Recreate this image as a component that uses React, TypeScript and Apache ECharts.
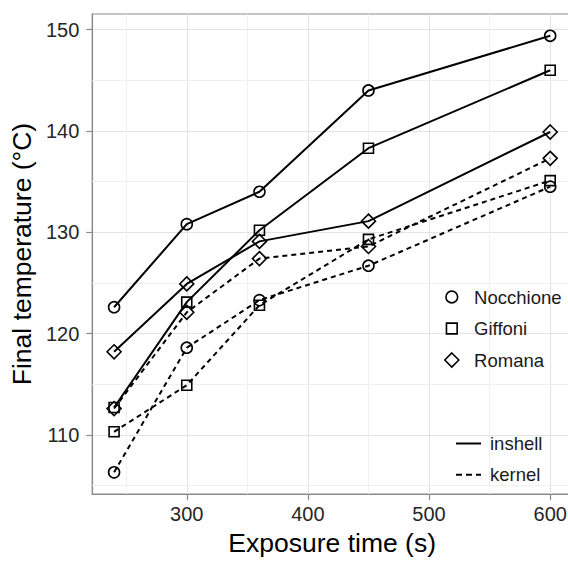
import React, { useEffect, useRef } from "react";
import * as echarts from "echarts";

const exposureTimes = [240, 300, 360, 450, 600];
const nocchioneInshell = [122.6, 130.8, 134.0, 144.0, 149.4];
const giffoniInshell = [112.7, 123.1, 130.2, 138.3, 146.0];
const romanaInshell = [118.2, 124.9, 129.1, 131.1, 139.9];
const nocchioneKernel = [106.3, 118.6, 123.3, 126.7, 134.5];
const giffoniKernel = [110.3, 114.9, 122.8, 129.3, 135.1];
const romanaKernel = [112.6, 122.1, 127.4, 128.6, 137.3];

const xTicks = [300, 400, 500, 600];
const yTicks = [110, 120, 130, 140, 150];
const xMinor = [250, 350, 450, 550];
const yMinor = [105, 115, 125, 135, 145];

const varieties = ["Nocchione", "Giffoni", "Romana"];
const forms = ["inshell", "kernel"];

const FONT = "Liberation Sans, Arial, sans-serif";
const GRAY = "#8a8a8a";

// legend icon shapes inside a common 14x14 frame (corner moves fix the frame)
const FRAME = "M0,0ZM14,14Z";
const ICON_CIRCLE = "path://" + FRAME + "M1.15,7A5.85,5.85 0 1 1 12.85,7A5.85,5.85 0 1 1 1.15,7Z";
const ICON_SQUARE = "path://" + FRAME + "M1.65,1.65H12.35V12.35H1.65Z";
const ICON_DIAMOND = "path://" + FRAME + "M7,0L14,7L7,14L0,7Z";

function pairs(ys: number[]) {
  return exposureTimes.map((x, i) => [x, ys[i]]);
}

export default function App() {
  const ref = useRef<HTMLDivElement>(null);
  useEffect(() => {
    if (!ref.current) return;
    const chart = echarts.init(ref.current, undefined, { renderer: "svg" });

    const symbols: Record<string, [string, number]> = {
      Nocchione: ["circle", 11],
      Giffoni: ["rect", 10],
      Romana: ["diamond", 14],
    };
    const dataMap: Record<string, number[]> = {
      "Nocchione inshell": nocchioneInshell,
      "Giffoni inshell": giffoniInshell,
      "Romana inshell": romanaInshell,
      "Nocchione kernel": nocchioneKernel,
      "Giffoni kernel": giffoniKernel,
      "Romana kernel": romanaKernel,
    };

    const dataSeries: any[] = [];
    forms.forEach((f) => {
      varieties.forEach((v) => {
        const [sym, size] = symbols[v];
        dataSeries.push({
          type: "line",
          name: v + " " + f,
          data: pairs(dataMap[v + " " + f]),
          symbol: sym,
          symbolSize: size,
          showSymbol: true,
          clip: false,
          z: 3,
          lineStyle: {
            color: "#000",
            width: 2,
            type: f === "kernel" ? [5, 4] : "solid",
          },
          itemStyle: {
            color: "rgba(0,0,0,0)",
            borderColor: "#000",
            borderWidth: 1.6,
          },
        });
      });
    });

    const minorLines = {
      type: "line",
      name: "minor-grid",
      data: [],
      silent: true,
      markLine: {
        silent: true,
        z: 1,
        symbol: ["none", "none"],
        label: { show: false },
        animation: false,
        lineStyle: { color: "#f0f0f0", width: 1, type: "solid" },
        data: [
          ...yMinor.map((v) => ({ yAxis: v })),
          ...xMinor.map((v) => ({ xAxis: v })),
        ],
      },
    };

    const legendSeries = [...varieties, ...forms].map((n) => ({
      type: "line",
      name: n,
      data: [],
    }));

    chart.setOption({
      animation: false,
      backgroundColor: "#ffffff",
      textStyle: { fontFamily: FONT },
      grid: {
        left: 91,
        top: 14,
        right: 4,
        bottom: 61,
        show: true,
        borderColor: GRAY,
        borderWidth: 1.2,
        backgroundColor: "transparent",
      },
      xAxis: {
        type: "value",
        min: 222,
        max: 618,
        name: "Exposure time (s)",
        nameLocation: "middle",
        nameGap: 33,
        nameTextStyle: { fontSize: 26.5, color: "#000", fontFamily: FONT },
        axisLine: { show: true, lineStyle: { color: GRAY, width: 1.2 } },
        axisTick: {
          show: true,
          length: 6,
          customValues: xTicks,
          lineStyle: { color: GRAY, width: 1.2 },
        },
        axisLabel: {
          customValues: xTicks,
          margin: 10,
          fontSize: 20,
          color: "#262626",
          fontFamily: FONT,
          formatter: (v: number) => (xTicks.indexOf(v) >= 0 ? String(v) : ""),
        },
        splitLine: {
          show: true,
          customValues: xTicks,
          lineStyle: { color: "#e4e4e4", width: 1.2 },
        },
      },
      yAxis: {
        type: "value",
        min: 104.15,
        max: 151.55,
        name: "Final temperature (°C)",
        nameLocation: "middle",
        nameRotate: 90,
        nameGap: 53,
        nameTextStyle: { fontSize: 26.5, color: "#000", fontFamily: FONT },
        axisLine: { show: true, lineStyle: { color: GRAY, width: 1.2 } },
        axisTick: {
          show: true,
          length: 6,
          customValues: yTicks,
          lineStyle: { color: GRAY, width: 1.2 },
        },
        axisLabel: {
          customValues: yTicks,
          margin: 13,
          fontSize: 20,
          color: "#262626",
          fontFamily: FONT,
          formatter: (v: number) => (yTicks.indexOf(v) >= 0 ? String(v) : ""),
        },
        splitLine: {
          show: true,
          customValues: yTicks,
          lineStyle: { color: "#e4e4e4", width: 1.2 },
        },
      },
      legend: [
        {
          orient: "vertical",
          left: 444,
          top: 287.5,
          padding: 0,
          itemGap: 12.5,
          itemWidth: 34.6,
          itemHeight: 14,
          symbolKeepAspect: true,
          selectedMode: false,
          data: [
            { name: "Nocchione", icon: ICON_CIRCLE },
            { name: "Giffoni", icon: ICON_SQUARE },
            { name: "Romana", icon: ICON_DIAMOND },
          ],
          itemStyle: {
            color: "rgba(0,0,0,0)",
            borderColor: "#000",
            borderWidth: 1.6,
          },
          textStyle: { fontSize: 18.5, color: "#1a1a1a", fontFamily: FONT },
        },
        {
          orient: "vertical",
          left: 456,
          top: 434,
          padding: 0,
          itemGap: 12.2,
          itemWidth: 33,
          itemHeight: 2,
          symbolKeepAspect: true,
          selectedMode: false,
          data: [
            { name: "inshell", icon: "path://M0,0H25V2H0Z" },
            {
              name: "kernel",
              icon: "path://M0,0H6V2H0ZM10,0H16V2H10ZM20,0H25V2H20Z",
            },
          ],
          itemStyle: { color: "#000", borderWidth: 0 },
          textStyle: { fontSize: 18.5, color: "#1a1a1a", fontFamily: FONT },
        },
      ],
      series: [minorLines, ...dataSeries, ...legendSeries],
    });

    return () => chart.dispose();
  }, []);

  return (
    <div
      style={{
        position: "absolute",
        left: 0,
        top: 0,
        width: 568,
        height: 561,
        overflow: "hidden",
      }}
    >
      <div ref={ref} style={{ width: 576, height: 561 }} />
    </div>
  );
}
